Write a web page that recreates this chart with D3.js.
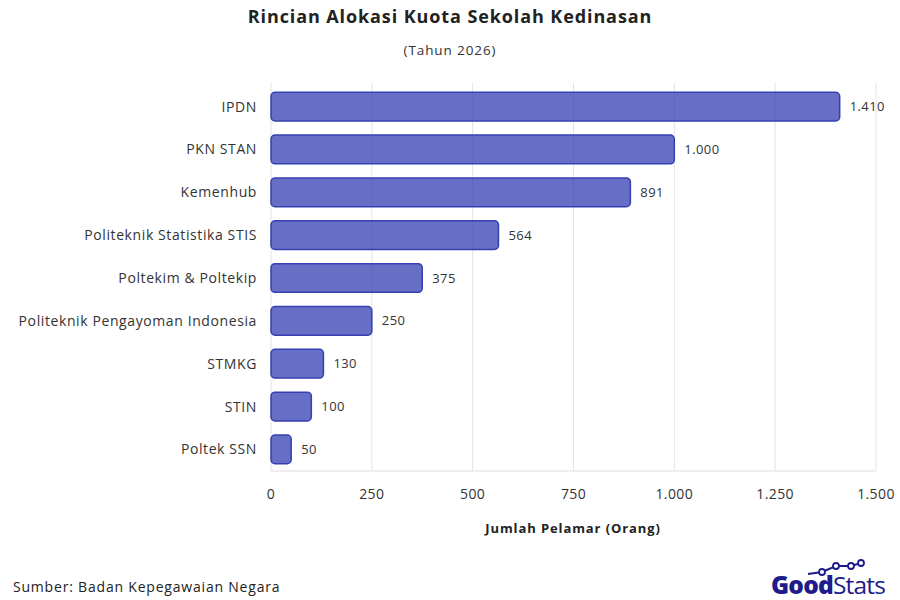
<!DOCTYPE html>
<html><head><meta charset="utf-8">
<script src="https://cdn.jsdelivr.net/npm/d3@7"></script>
<style>body{margin:0;background:#fff}svg{font-family:"Open Sans",sans-serif}</style>
</head><body><svg id="c" width="900" height="600"></svg>
<script>
const categories = ["IPDN","PKN STAN","Kemenhub","Politeknik Statistika STIS","Poltekim & Poltekip","Politeknik Pengayoman Indonesia","STMKG","STIN","Poltek SSN"];
const values = [1410,1000,891,564,375,250,130,100,50];
const ticks = [0,250,500,750,1000,1250,1500];
const fmt = v => d3.format(",")(v).replace(/,/g, ".");

const svg = d3.select("#c");
const m = {l: 271, r: 876, t: 85, b: 471};
const x = d3.scaleLinear().domain([0,1500]).range([m.l, m.r]);
const y = d3.scaleBand().domain(categories).range([m.t, m.b]).paddingInner(0.33).paddingOuter(0.17);

svg.append("text").attr("x",450).attr("y",23).attr("text-anchor","middle").attr("letter-spacing",0.9)
  .attr("font-size",18).attr("font-weight",700).attr("fill","#222").text("Rincian Alokasi Kuota Sekolah Kedinasan");
svg.append("text").attr("x",450).attr("y",55).attr("text-anchor","middle").attr("letter-spacing",0.9)
  .attr("font-size",13.5).attr("fill","#333").text("(Tahun 2026)");

svg.append("g").selectAll("line").data(ticks).join("line")
  .attr("x1",d=>x(d)).attr("x2",d=>x(d)).attr("y1",m.t-2).attr("y2",m.b)
  .attr("stroke","#e3e3e3");
svg.append("line").attr("x1",m.l).attr("x2",m.r).attr("y1",m.b).attr("y2",m.b).attr("stroke","#ddd");

svg.append("g").selectAll("rect").data(values).join("rect")
  .attr("x",x(0)).attr("y",(d,i)=>y(categories[i])).attr("width",d=>x(d)-x(0))
  .attr("height",y.bandwidth()).attr("rx",4)
  .attr("fill","rgba(51,61,177,0.75)").attr("stroke","#3640b0").attr("stroke-width",1.5);

svg.append("g").selectAll("text").data(values).join("text")
  .attr("x",d=>x(d)+10).attr("y",(d,i)=>y(categories[i])+y.bandwidth()/2+4.5).attr("letter-spacing",0.4)
  .attr("font-size",13).attr("fill","#333").text(fmt);

svg.append("g").selectAll("text").data(categories).join("text")
  .attr("x",m.l-14).attr("y",d=>y(d)+y.bandwidth()/2+5).attr("text-anchor","end").attr("letter-spacing",0.6)
  .attr("font-size",14).attr("fill","#333").text(d=>d);

svg.append("g").selectAll("text").data(ticks).join("text")
  .attr("x",d=>x(d)).attr("y",499).attr("text-anchor","middle").attr("letter-spacing",0.4)
  .attr("font-size",14).attr("fill","#333").text(fmt);

svg.append("text").attr("x",573).attr("y",533).attr("text-anchor","middle").attr("letter-spacing",0.9)
  .attr("font-size",13).attr("font-weight",700).attr("fill","#222").text("Jumlah Pelamar (Orang)");

svg.append("text").attr("x",13).attr("y",592).attr("font-size",14).attr("fill","#222").attr("letter-spacing",0.8)
  .text("Sumber: Badan Kepegawaian Negara");

// logo
const lg = svg.append("g");
const pts = [[808,574],[822,572],[836,566],[851,566],[861,563]];
lg.append("path").attr("d",d3.line()(pts)).attr("fill","none").attr("stroke","#1e1b8a").attr("stroke-width",2);
lg.selectAll("circle").data(pts.slice(1)).join("circle").attr("cx",d=>d[0]).attr("cy",d=>d[1]).attr("r",3)
  .attr("fill","#fff").attr("stroke","#1e1b8a").attr("stroke-width",1.8);
lg.append("text").attr("x",771).attr("y",594).attr("font-size",24.5).attr("fill","#1e1b8a")
  .attr("letter-spacing",-0.8)
  .html('<tspan font-weight="800">Good</tspan><tspan font-weight="400">Stats</tspan>');
</script></body></html>
